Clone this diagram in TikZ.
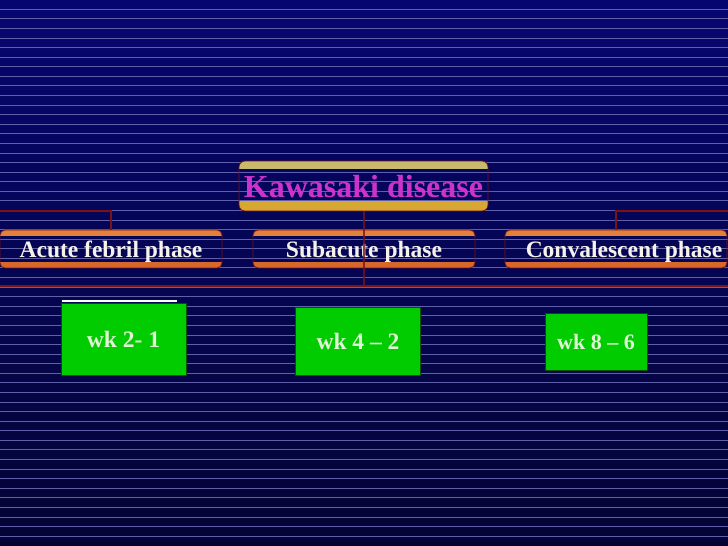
\documentclass[tikz,border=0pt]{standalone}
\usepackage{fontspec}
\setmainfont{Liberation Serif}
\definecolor{navytop}{RGB}{6,6,112}
\definecolor{navybot}{RGB}{4,4,52}
\definecolor{stripe}{RGB}{96,96,170}
\definecolor{linkred}{RGB}{122,18,22}
\definecolor{orangetop}{RGB}{226,128,60}
\definecolor{orangebot}{RGB}{216,104,42}
\definecolor{khaki}{RGB}{201,185,106}
\definecolor{goldbot}{RGB}{214,167,51}
\definecolor{titlemag}{RGB}{204,51,204}
\definecolor{paletext}{RGB}{246,242,232}
\definecolor{wkgreen}{RGB}{0,204,0}
\definecolor{wktext}{RGB}{226,244,214}

\begin{document}
\begin{tikzpicture}[x=1pt,y=-1pt,
    phase/.style={rounded corners=5pt,draw=linkred,line width=0.8pt,
      minimum width=222pt,minimum height=38pt,text depth=0pt,text=paletext,
      font=\bfseries\fontsize{23.5}{26}\selectfont,
      path picture={
        \fill[orangetop,sharp corners] (path picture bounding box.north west) rectangle ([yshift=-6pt]path picture bounding box.north east);
        \fill[orangebot,sharp corners] ([yshift=6pt]path picture bounding box.south west) rectangle (path picture bounding box.south east);}},
    title/.style={rounded corners=6pt,draw=linkred,line width=0.8pt,
      minimum width=249pt,minimum height=50pt,text depth=0pt,text=titlemag,
      font=\bfseries\fontsize{32}{36}\selectfont,
      path picture={
        \fill[khaki,sharp corners] (path picture bounding box.north west) rectangle ([yshift=-8pt]path picture bounding box.north east);
        \fill[goldbot,sharp corners] ([yshift=10pt]path picture bounding box.south west) rectangle (path picture bounding box.south east);}},
    week/.style={fill=wkgreen,draw=black!60!wkgreen,line width=0.8pt,text depth=0pt,text=wktext,
      font=\bfseries\fontsize{23.5}{26}\selectfont},
    link/.style={draw=linkred,line width=2pt},
    bgline/.style={draw=stripe,line width=1pt}
    ]

    \useasboundingbox (0,0) rectangle (728,546);
    \shade[top color=navytop,bottom color=navybot] (0,0) rectangle (728,546);
    \foreach \k in {0,...,55} {
      \draw[bgline] (0,{int(9.3+9.58*\k)+0.5}) -- (728,{int(9.3+9.58*\k)+0.5});
    }

    \coordinate (le) at (0,211);
    \coordinate (re) at (728,211);
    \coordinate (bl) at (0,286);
    \coordinate (br) at (728,286);

    \node(kd) [title] at (363.5,186) {Kawasaki disease};

    \node(a1) [phase] at (111,249) {Acute febril phase};
    \node(a2) [phase] at (364,249) {Subacute phase};
    \node(a3) [phase] at (616,249) {\hspace*{16pt}Convalescent phase};

    \draw[link] (a1.north) |- (le);
    \draw[link] (a3.north) |- (re);
    \draw[link] (bl) -- (br);
    \draw[link,opacity=0.8] (kd.south) -- (kd.south |- bl);

    \node(g1) [week,minimum width=125pt,minimum height=72.5pt] at (123.5,339.5) {wk 2- 1};
    \node(g2) [week,minimum width=124.5pt,minimum height=68.5pt] at (358,341.5) {wk 4 -- 2};
    \node(g3) [week,minimum width=102pt,minimum height=57pt,font=\bfseries\fontsize{22}{24}\selectfont] at (596,341.5) {wk 8 -- 6};

    \draw[white,line width=1.5pt] ([xshift=1pt,yshift=1.8pt]g1.north west) -- ([xshift=-9.5pt,yshift=1.8pt]g1.north east);

\end{tikzpicture}
\end{document}
